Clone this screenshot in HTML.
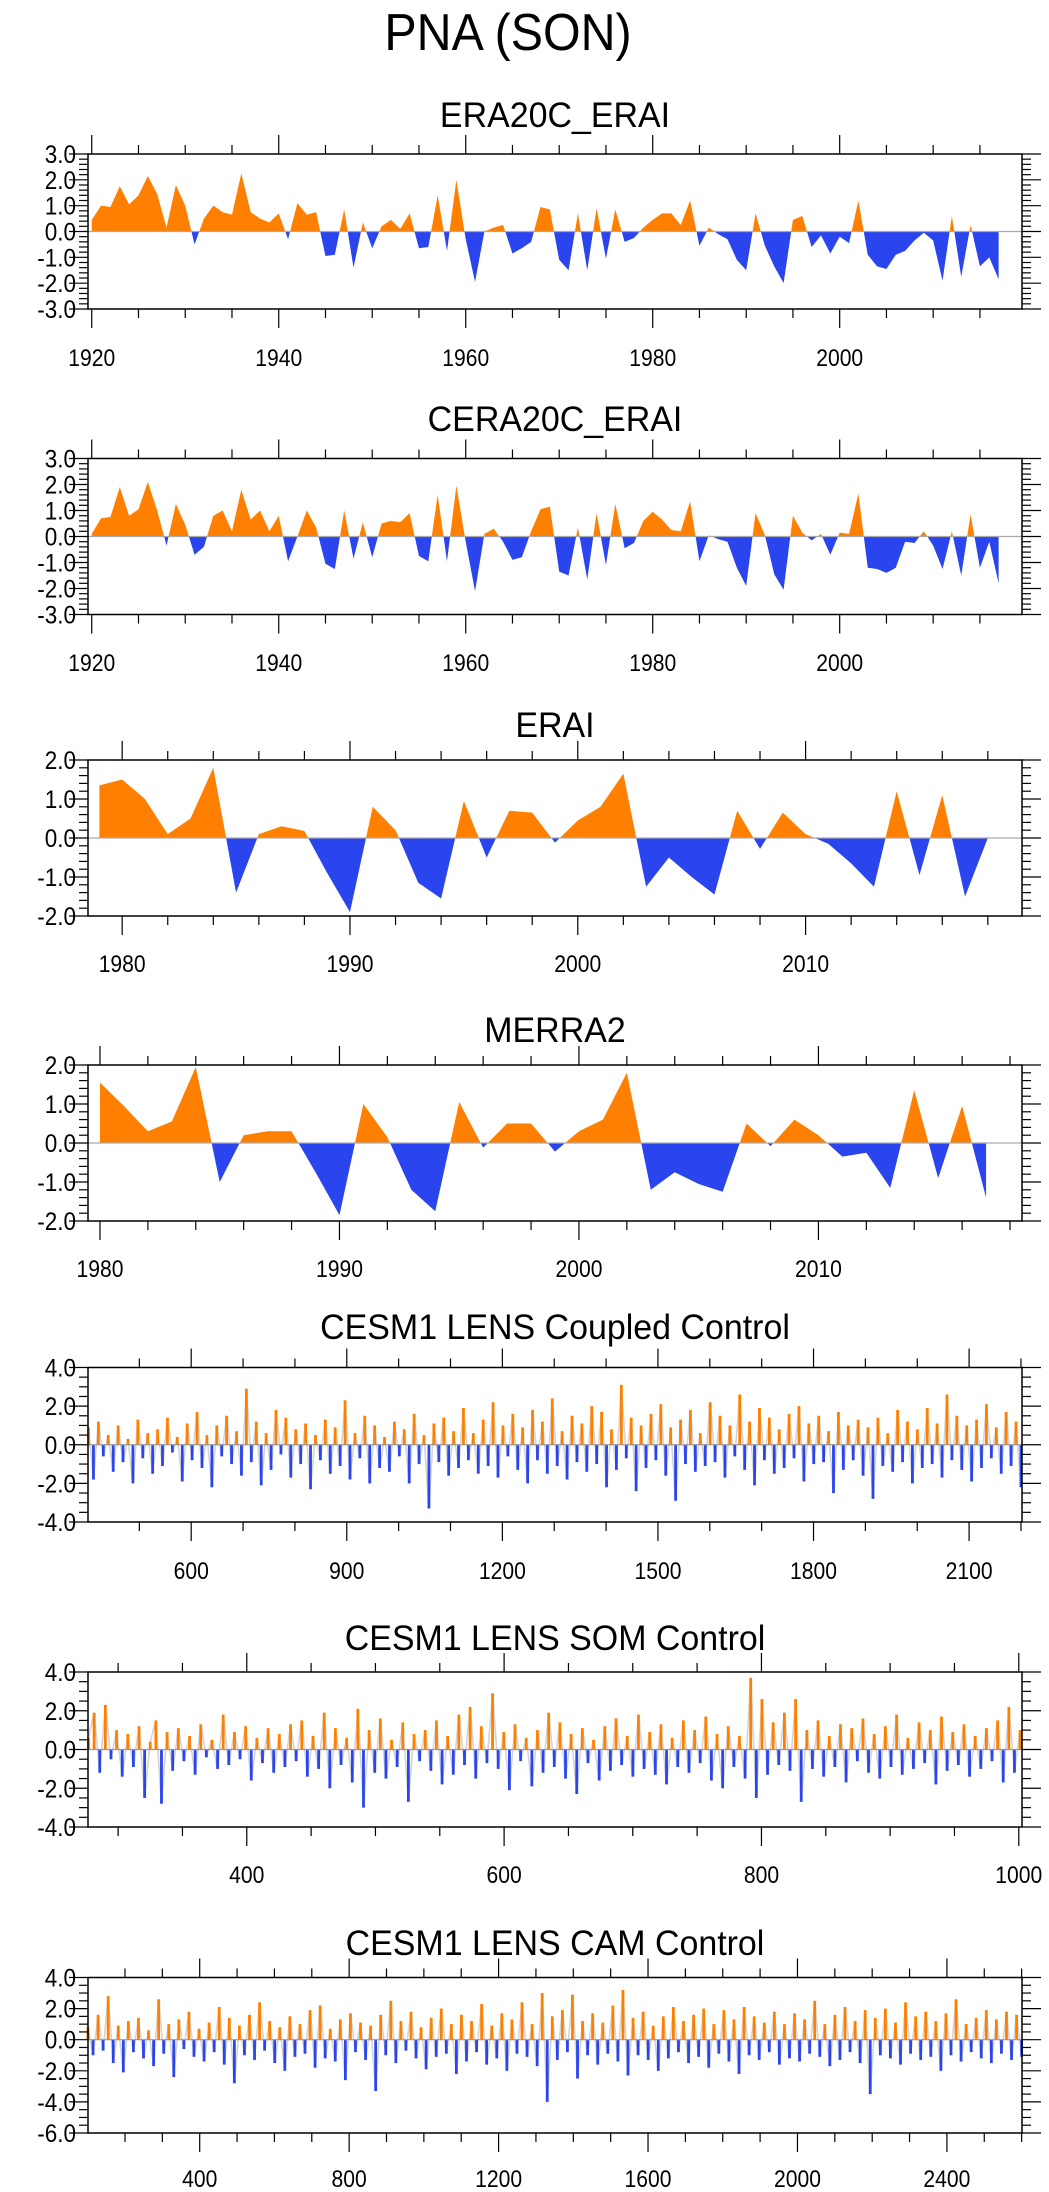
<!DOCTYPE html>
<html><head><meta charset="utf-8"><style>
html,body{margin:0;padding:0;background:#fff}
svg{display:block}
text{font-family:"Liberation Sans",sans-serif;fill:#000}
</style></head><body>
<svg id="fig" width="1049" height="2192" viewBox="0 0 1049 2192" xmlns="http://www.w3.org/2000/svg">
<text transform="translate(508,50) scale(0.93,1)" text-anchor="middle" font-size="52">PNA (SON)</text>
</svg>
<script>
// ---- data ----
const era20cYears = [1920, 2017];
const era20cVals = [0.45,1.0,0.95,1.75,1.05,1.4,2.15,1.45,0.15,1.8,1.0,-0.5,0.5,1.0,0.75,0.65,2.25,0.75,0.5,0.35,0.7,-0.3,1.1,0.65,0.75,-0.95,-0.9,0.85,-1.4,0.35,-0.65,0.2,0.45,0.1,0.7,-0.65,-0.6,1.4,-0.75,2.0,-0.3,-1.95,0.0,0.15,0.25,-0.85,-0.65,-0.4,0.95,0.85,-1.1,-1.5,0.7,-1.5,0.9,-1.05,0.85,-0.4,-0.25,0.15,0.45,0.7,0.7,0.25,1.2,-0.55,0.15,-0.1,-0.3,-1.1,-1.5,0.7,-0.55,-1.35,-2.0,0.45,0.6,-0.6,-0.15,-0.85,-0.2,-0.45,1.2,-0.9,-1.35,-1.45,-0.9,-0.75,-0.35,-0.05,-0.35,-1.9,0.6,-1.75,0.25,-1.35,-1.0,-1.85];
const cera20cYears = [1920, 2017];
const cera20cVals = [0.1,0.7,0.75,1.9,0.8,1.05,2.1,1.0,-0.35,1.25,0.45,-0.7,-0.4,0.8,1.0,0.2,1.8,0.65,1.0,0.2,0.8,-0.95,0.0,1.0,0.35,-1.05,-1.25,1.0,-0.85,0.55,-0.8,0.5,0.6,0.55,0.9,-0.75,-0.95,1.6,-0.95,1.95,-0.2,-2.1,0.1,0.3,-0.2,-0.9,-0.8,0.2,1.05,1.15,-1.35,-1.5,0.35,-1.65,0.9,-1.1,1.25,-0.45,-0.25,0.6,0.95,0.65,0.25,0.2,1.35,-0.95,0.05,-0.1,-0.2,-1.2,-1.9,0.9,0.05,-1.45,-2.05,0.8,0.15,-0.15,0.1,-0.7,0.15,0.1,1.65,-1.2,-1.25,-1.4,-1.2,-0.2,-0.25,0.2,-0.35,-1.25,0.2,-1.5,0.85,-1.2,-0.2,-1.8];
const eraiYears = [1979, 2018];
const eraiVals = [1.35,1.5,1.0,0.1,0.5,1.8,-1.4,0.1,0.3,0.18,-0.9,-1.9,0.8,0.2,-1.15,-1.55,0.95,-0.5,0.7,0.65,-0.12,0.45,0.8,1.65,-1.25,-0.5,-1.0,-1.45,0.7,-0.28,0.65,0.1,-0.15,-0.65,-1.25,1.2,-0.95,1.1,-1.5,0.0];
const merraYears = [1980, 2017];
const merraVals = [1.55,0.95,0.3,0.55,1.95,-1.0,0.2,0.3,0.3,-0.75,-1.85,1.0,0.15,-1.2,-1.75,1.05,-0.12,0.5,0.5,-0.22,0.3,0.6,1.8,-1.2,-0.75,-1.05,-1.25,0.5,-0.08,0.6,0.2,-0.35,-0.25,-1.15,1.35,-0.9,0.95,-1.4];
const coupledYears = [402, 2200];
const coupledVals = [0.9,-1.8,1.2,-0.6,0.5,-1.4,1.0,-0.9,0.3,-2.0,1.3,-0.7,0.6,-1.5,0.8,-1.1,1.4,-0.4,0.4,-1.9,
1.1,-0.8,1.7,-1.2,0.5,-2.2,1.0,-0.6,1.5,-1.0,0.7,-1.6,2.9,-0.9,1.2,-2.1,0.6,-1.3,1.8,-0.5,
1.4,-1.7,0.8,-1.0,1.1,-2.3,0.5,-0.8,1.3,-1.5,0.9,-1.1,2.3,-1.8,0.6,-0.7,1.5,-2.0,1.0,-1.2,
0.4,-1.4,1.2,-0.6,0.8,-2.0,1.6,-1.0,0.5,-3.3,1.1,-0.9,1.4,-1.6,0.7,-1.2,1.9,-0.8,0.6,-1.5,
1.3,-1.1,2.2,-1.7,1.0,-0.6,1.6,-1.3,0.9,-2.0,1.8,-0.8,1.2,-1.5,2.4,-1.1,0.7,-1.8,1.5,-0.9,
1.1,-1.4,2.0,-1.0,1.7,-2.2,0.8,-1.3,3.1,-0.7,1.4,-2.4,1.0,-1.2,1.6,-0.8,2.1,-1.6,0.9,-2.9,
1.3,-1.0,1.8,-1.4,0.6,-1.1,2.2,-0.9,1.5,-1.7,1.0,-0.6,2.6,-1.3,1.2,-2.1,1.9,-0.8,1.4,-1.5,
0.8,-1.2,1.6,-0.7,2.0,-1.9,1.1,-1.0,1.5,-0.9,0.7,-2.5,1.7,-1.3,1.0,-0.8,1.3,-1.6,0.9,-2.8,
1.4,-1.1,0.6,-1.4,1.8,-0.9,1.2,-2.0,0.8,-1.2,1.9,-1.0,1.1,-1.7,2.6,-0.8,1.5,-1.3,1.0,-1.9,
1.3,-1.2,2.1,-0.7,0.9,-1.5,1.7,-1.1,1.2,-2.2];
const somYears = [277, 1001];
const somVals = [0.6,1.9,-1.2,2.3,-0.5,1.0,-1.4,0.8,-0.9,1.2,-2.5,0.4,1.5,-2.8,0.9,-1.1,1.1,-0.6,0.7,-1.3,
1.3,-0.4,0.5,-1.0,1.8,-0.8,0.9,-0.5,1.2,-1.6,0.6,-0.7,1.1,-1.2,0.8,-0.9,1.3,-0.6,1.5,-1.4,
0.7,-1.0,1.9,-2.0,1.1,-0.8,0.6,-1.7,2.1,-3.0,1.0,-1.2,1.6,-1.5,0.5,-0.9,1.4,-2.7,0.8,-0.6,
1.0,-1.1,1.5,-1.8,0.7,-1.3,1.8,-0.8,2.2,-1.5,1.2,-0.7,2.9,-1.0,0.9,-2.1,1.3,-0.6,0.6,-1.9,
1.0,-1.2,1.9,-0.9,1.4,-1.5,0.8,-2.3,1.1,-0.7,0.5,-1.6,1.2,-1.1,1.6,-0.8,0.7,-1.4,1.8,-1.0,
0.9,-1.3,1.3,-1.8,0.6,-0.9,1.5,-1.2,1.0,-0.7,1.7,-1.6,0.8,-2.0,1.2,-0.9,0.7,-1.5,3.7,-2.5,
2.6,-1.3,1.4,-0.8,1.9,-1.1,2.6,-2.7,1.0,-1.0,1.5,-1.4,0.7,-0.9,1.3,-1.7,1.1,-0.6,1.6,-1.2,
0.8,-1.5,1.2,-0.9,1.8,-1.3,0.6,-1.0,1.4,-0.7,1.0,-1.8,1.7,-1.1,0.9,-0.8,1.3,-1.4,0.7,-1.0,
1.1,-0.6,1.5,-1.7,2.2,-1.2,1.0];
const camYears = [101, 2600];
const camVals = [0.8,-1.0,1.6,-0.7,2.8,-1.5,0.9,-2.1,1.2,-0.8,1.4,-1.2,0.6,-1.7,2.6,-0.9,1.0,-2.4,1.3,-0.6,
1.8,-1.1,0.7,-1.4,1.1,-0.8,2.1,-1.6,1.4,-2.8,0.9,-1.0,1.6,-1.3,2.4,-0.7,1.2,-1.5,0.8,-2.0,
1.5,-1.1,1.0,-0.9,1.9,-1.8,2.2,-1.2,0.7,-1.4,1.3,-2.6,1.7,-0.8,1.1,-1.3,0.9,-3.3,1.6,-1.0,
2.5,-1.5,1.2,-0.7,1.8,-1.2,0.8,-1.9,1.4,-1.1,2.0,-0.9,1.0,-2.2,1.6,-1.4,1.2,-0.8,2.3,-1.6,
0.9,-1.2,1.7,-2.0,1.3,-0.9,2.4,-1.1,1.0,-1.7,3.0,-4.0,1.5,-1.3,1.9,-0.8,2.9,-2.5,1.2,-1.0,
1.7,-1.6,1.1,-0.9,2.2,-1.4,3.2,-2.3,1.4,-1.0,1.8,-1.3,0.9,-2.0,1.5,-1.2,2.1,-0.8,1.2,-1.5,
1.6,-1.1,2.0,-1.8,1.0,-0.9,1.9,-1.4,1.3,-2.2,2.1,-1.0,1.5,-1.3,1.1,-0.8,1.8,-1.6,1.0,-1.2,
1.7,-1.4,1.3,-0.9,2.5,-1.1,1.0,-1.7,1.6,-1.3,2.1,-0.8,1.2,-1.5,1.9,-3.5,1.4,-1.0,2.0,-1.2,
1.1,-1.6,2.4,-0.9,1.5,-1.3,1.8,-1.1,1.2,-2.0,1.7,-1.0,2.6,-1.4,1.0,-0.8,1.4,-1.2,1.9,-1.5,
1.3,-0.9,1.8,-1.3,1.6,-1.1];
const yTickLabels3 = ["3.0","2.0","1.0","0.0","-1.0","-2.0","-3.0"];
const yTickLabels2 = ["2.0","1.0","0.0","-1.0","-2.0"];
const yTickLabels4 = ["4.0","2.0","0.0","-2.0","-4.0"];
const yTickLabels46 = ["4.0","2.0","0.0","-2.0","-4.0","-6.0"];

const NS = "http://www.w3.org/2000/svg";
const svg = document.getElementById('fig');
const ORANGE = "#ff8000", BLUE = "#2a45ee";
let clipId = 0;
function mk(tag, attrs, parent) {
  const e = document.createElementNS(NS, tag);
  for (const k in attrs) e.setAttribute(k, attrs[k]);
  (parent || svg).appendChild(e);
  return e;
}
function panel(p) {
  const L = 88, R = 1022;
  const g = mk('g', {});
  
  
  const xs = v => L + (v - p.xmin) / (p.xmax - p.xmin) * (R - L);
  const ys = v => p.bottom - (v - p.ymin) / (p.ymax - p.ymin) * (p.bottom - p.top);
  const t = mk('text', {transform: `translate(555,${p.titleY}) scale(0.97,1)`, 'text-anchor': 'middle', 'font-size': 35}, g);
  t.textContent = p.title;
  
  
  const n = p.vals.length;
  const yr = i => p.years[0] + i * (p.years[1] - p.years[0]) / (n - 1);
  const y0 = ys(0);
  const sg = mk('g', {}, g);
  
  
  if (!p.bars) {
    const zl = mk('line', {x1: L, x2: R, y1: y0, y2: y0, stroke: '#aaa', 'stroke-width': 1.2}, g);
    
    
    let pts = [];
    for (let i = 0; i < n; i++) pts.push(xs(yr(i)).toFixed(2) + ',' + ys(p.vals[i]).toFixed(2));
    pts.push(xs(yr(n - 1)).toFixed(2) + ',' + y0, xs(yr(0)).toFixed(2) + ',' + y0);
    const ca = 'c' + (clipId++), cb = 'c' + (clipId++);
    const defs = mk('defs', {}, g);
    const c1 = mk('clipPath', {id: ca}, defs); mk('rect', {x: 0, y: 0, width: 1049, height: y0}, c1);
    const c2 = mk('clipPath', {id: cb}, defs); mk('rect', {x: 0, y: y0, width: 1049, height: 500}, c2);
    const a = mk('polygon', {points: pts.join(' '), fill: ORANGE, 'clip-path': `url(#${ca})`}, sg);
    
    
    const b = mk('polygon', {points: pts.join(' '), fill: BLUE, 'clip-path': `url(#${cb})`}, sg);
    
    
  } else {
    let pts = [];
    for (let i = 0; i < n; i++) pts.push(xs(yr(i)).toFixed(2) + ',' + ys(p.vals[i]).toFixed(2));
    const pl = mk('polyline', {points: pts.join(' '), fill: 'none', stroke: '#d4d4d4', 'stroke-width': 1.6}, sg);
    
    
    for (let i = 0; i < n; i++) {
      const v = p.vals[i], x = xs(yr(i)), yv = ys(v);
      const r = mk('rect', {x: (x - 1.4).toFixed(2), y: Math.min(yv, y0).toFixed(2), width: 2.8, height: Math.abs(yv - y0).toFixed(2), fill: v >= 0 ? ORANGE : BLUE}, sg);
      
      
    }
    const zl = mk('line', {x1: L, x2: R, y1: y0, y2: y0, stroke: '#999', 'stroke-width': 1.2}, g);
    
    
  }
  const fr = mk('rect', {x: L, y: p.top, width: R - L, height: p.bottom - p.top, fill: 'none', stroke: '#000', 'stroke-width': 1.5}, g);
  
  
  const xa = mk('g', {stroke: '#000', 'stroke-width': 1.2}, g);
  
  
  for (let v = Math.ceil(p.xmin / p.xMinor) * p.xMinor; v <= p.xmax; v += p.xMinor) {
    const x = xs(v), major = Math.abs(v % p.xMajor) < 1e-6, len = major ? 19 : 9;
    mk('line', {x1: x, x2: x, y1: p.top, y2: p.top - len}, xa);
    mk('line', {x1: x, x2: x, y1: p.bottom, y2: p.bottom + len}, xa);
    if (major) {
      const tl = mk('text', {transform: `translate(${x},${p.labelY}) scale(0.88,1)`, 'text-anchor': 'middle', 'font-size': 24, stroke: 'none'}, g);
      tl.textContent = v;
      
      
    }
  }
  const ya = mk('g', {stroke: '#000', 'stroke-width': 1.2}, g);
  
  
  const nm = Math.round((p.ymax - p.ymin) / p.yMinor);
  for (let k = 0; k <= nm; k++) {
    const v = p.ymin + k * p.yMinor, y = ys(v);
    const major = Math.abs((v - p.ymin) / p.yMajor - Math.round((v - p.ymin) / p.yMajor)) < 1e-6;
    const len = major ? 19 : 9;
    mk('line', {x1: L, x2: L - len, y1: y, y2: y}, ya);
    mk('line', {x1: R, x2: R + len, y1: y, y2: y}, ya);
  }
  p.yLabels.forEach((s, i) => {
    const y = ys(p.ymax - i * p.yMajor);
    const tl = mk('text', {transform: `translate(76,${y + 9}) scale(0.9,1)`, 'text-anchor': 'end', 'font-size': 25}, g);
    tl.textContent = s;
    
    
  });
}
panel({name: 'era20c-erai', title: 'ERA20C_ERAI', titleY: 127, top: 154, bottom: 309, labelY: 366, xmin: 1919.6, xmax: 2019.5, xMajor: 20, xMinor: 5, ymin: -3, ymax: 3, yMajor: 1, yMinor: 0.2, yLabels: yTickLabels3, years: era20cYears, vals: era20cVals});
panel({name: 'cera20c-erai', title: 'CERA20C_ERAI', titleY: 431, top: 458.5, bottom: 614.5, labelY: 671, xmin: 1919.6, xmax: 2019.5, xMajor: 20, xMinor: 5, ymin: -3, ymax: 3, yMajor: 1, yMinor: 0.2, yLabels: yTickLabels3, years: cera20cYears, vals: cera20cVals});
panel({name: 'erai', title: 'ERAI', titleY: 737, top: 760, bottom: 916, labelY: 972, xmin: 1978.5, xmax: 2019.5, xMajor: 10, xMinor: 2, ymin: -2, ymax: 2, yMajor: 1, yMinor: 0.2, yLabels: yTickLabels2, years: eraiYears, vals: eraiVals});
panel({name: 'merra2', title: 'MERRA2', titleY: 1042, top: 1065, bottom: 1221, labelY: 1277, xmin: 1979.5, xmax: 2018.5, xMajor: 10, xMinor: 2, ymin: -2, ymax: 2, yMajor: 1, yMinor: 0.2, yLabels: yTickLabels2, years: merraYears, vals: merraVals});
panel({name: 'coupled-control', title: 'CESM1 LENS Coupled Control', titleY: 1339, top: 1367.5, bottom: 1522, labelY: 1579, xmin: 401, xmax: 2202, xMajor: 300, xMinor: 100, ymin: -4, ymax: 4, yMajor: 2, yMinor: 0.5, yLabels: yTickLabels4, years: coupledYears, vals: coupledVals, bars: true});
panel({name: 'som-control', title: 'CESM1 LENS SOM Control', titleY: 1650, top: 1672, bottom: 1827, labelY: 1883, xmin: 276.6, xmax: 1002.5, xMajor: 200, xMinor: 50, ymin: -4, ymax: 4, yMajor: 2, yMinor: 0.5, yLabels: yTickLabels4, years: somYears, vals: somVals, bars: true});
panel({name: 'cam-control', title: 'CESM1 LENS CAM Control', titleY: 1955, top: 1977.5, bottom: 2133, labelY: 2187, xmin: 101, xmax: 2601, xMajor: 400, xMinor: 100, ymin: -6, ymax: 4, yMajor: 2, yMinor: 0.5, yLabels: yTickLabels46, years: camYears, vals: camVals, bars: true});
</script>
</body></html>
